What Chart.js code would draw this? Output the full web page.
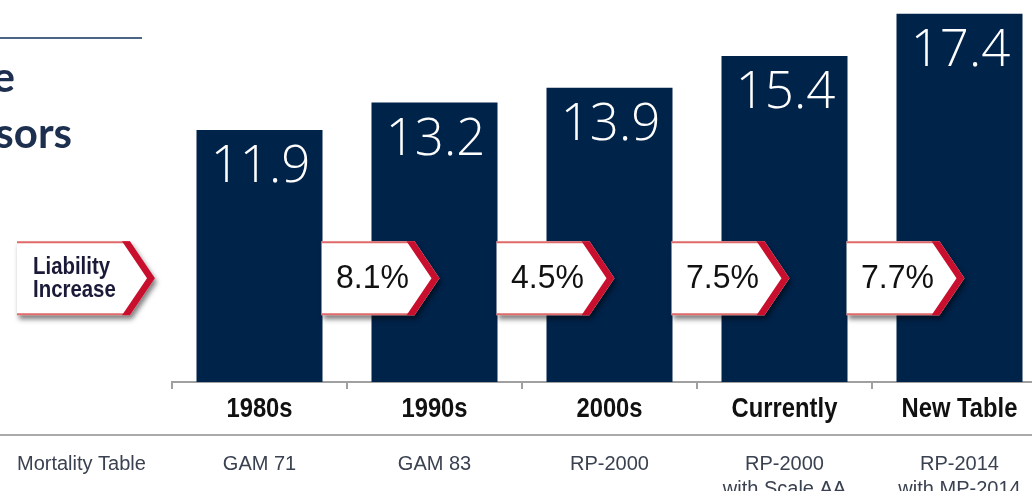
<!DOCTYPE html>
<html>
<head>
<meta charset="utf-8">
<script src="https://cdn.jsdelivr.net/npm/chart.js@4.4.1/dist/chart.umd.min.js"></script>
<style>
html, body { margin: 0; padding: 0; background: #fff; overflow: hidden; }
#wrap { width: 1047px; height: 491px; }
</style>
</head>
<body>
<div id="wrap"><canvas id="mortChart" width="1047" height="491"></canvas></div>
<script>
var periods = ['1980s', '1990s', '2000s', 'Currently', 'New Table'];
var lifeExpectancy = [11.9, 13.2, 13.9, 15.4, 17.4];
var liabilityIncrease = ['8.1%', '4.5%', '7.5%', '7.7%'];
var mortalityTables = [['GAM 71'], ['GAM 83'], ['RP-2000'], ['RP-2000', 'with Scale AA'], ['RP-2014', 'with MP-2014']];

var navy = '#00234a';
var red = '#c8102e';
var sans = '"Liberation Sans", Arial, sans-serif';

// text squeezed horizontally (no narrow font installed)
function squeezeText(ctx, txt, x, y, sx, align) {
    ctx.save();
    ctx.translate(x, y);
    ctx.scale(sx, 1);
    ctx.textAlign = align;
    ctx.fillText(txt, 0, 0);
    ctx.restore();
}

// white box with red chevron on the right
function drawArrow(ctx, x, yc, w, h) {
    var y0 = yc - h / 2, y1 = yc + h / 2;
    var xf = x + w - 25, xt = x + w;
    ctx.save();
    ctx.shadowColor = 'rgba(0,0,0,0.5)';
    ctx.shadowBlur = 5;
    ctx.shadowOffsetX = 2;
    ctx.shadowOffsetY = 4;
    ctx.fillStyle = '#fff';
    ctx.beginPath();
    ctx.moveTo(x, y0);
    ctx.lineTo(xf, y0);
    ctx.lineTo(xt, yc);
    ctx.lineTo(xf, y1);
    ctx.lineTo(x, y1);
    ctx.closePath();
    ctx.fill();
    ctx.restore();

    ctx.save();
    ctx.strokeStyle = '#e06a6a';
    ctx.lineWidth = 2;
    ctx.beginPath();
    ctx.moveTo(x, y0 + 1); ctx.lineTo(xf, y0 + 1);
    ctx.moveTo(x, y1 - 1); ctx.lineTo(xf, y1 - 1);
    ctx.stroke();
    ctx.fillStyle = red;
    ctx.beginPath();
    ctx.moveTo(xf - 8, y0);
    ctx.lineTo(xf, y0);
    ctx.lineTo(xt, yc);
    ctx.lineTo(xf, y1);
    ctx.lineTo(xf - 8, y1);
    ctx.lineTo(xt - 8, yc);
    ctx.closePath();
    ctx.fill();
    ctx.restore();
}

var decorations = {
    id: 'decorations',
    afterDatasetsDraw: function(chart) {
        var ctx = chart.ctx;
        var meta = chart.getDatasetMeta(0);
        var yScale = chart.scales.y;
        var yc = yScale.getPixelForValue(4.9);

        // values inside bars
        ctx.save();
        ctx.fillStyle = '#fff';
        ctx.font = '300 51px "Open Sans", sans-serif';
        ctx.textBaseline = 'alphabetic';
        meta.data.forEach(function(bar, i) {
            squeezeText(ctx, lifeExpectancy[i].toFixed(1), bar.x + 1, bar.y + 52, 1, 'center');
        });
        ctx.restore();

        // liability increase arrows
        drawArrow(ctx, 17, yc, 138, 74);
        ctx.save();
        ctx.fillStyle = '#1a1a38';
        ctx.font = 'bold 24px ' + sans;
        squeezeText(ctx, 'Liability', 33, yc - 4, 0.85, 'left');
        squeezeText(ctx, 'Increase', 33, yc + 19, 0.85, 'left');
        ctx.restore();

        liabilityIncrease.forEach(function(txt, i) {
            var bar = meta.data[i];
            var x = bar.x + bar.width / 2 - 1;
            drawArrow(ctx, x, yc, 118, 74);
            ctx.save();
            ctx.fillStyle = '#111';
            ctx.font = '33px ' + sans;
            squeezeText(ctx, txt, x + 51, yc + 10, 0.97, 'center');
            ctx.restore();
        });
    },
    afterDraw: function(chart) {
        var ctx = chart.ctx;
        var xScale = chart.scales.x;

        // category labels under the axis
        ctx.save();
        ctx.fillStyle = '#111';
        ctx.font = 'bold 28px ' + sans;
        periods.forEach(function(p, i) {
            squeezeText(ctx, p, xScale.getPixelForValue(i), 417, 0.85, 'center');
        });
        ctx.restore();

        // title fragments on the left
        ctx.save();
        ctx.strokeStyle = '#4a6585';
        ctx.lineWidth = 2;
        ctx.beginPath();
        ctx.moveTo(0, 38); ctx.lineTo(142, 38);
        ctx.stroke();
        ctx.fillStyle = '#1c2f4f';
        ctx.font = 'bold 42px Lato, sans-serif';
        ctx.textAlign = 'right';
        ctx.fillText('e', 15, 92);
        ctx.fillText('sors', 72, 148);
        ctx.restore();

        // mortality table row
        ctx.save();
        ctx.strokeStyle = '#aaaaaa';
        ctx.lineWidth = 2;
        ctx.beginPath();
        ctx.moveTo(0, 435); ctx.lineTo(chart.width, 435);
        ctx.stroke();
        ctx.fillStyle = '#3a4150';
        ctx.font = '20px ' + sans;
        ctx.textAlign = 'left';
        ctx.fillText('Mortality Table', 17, 470);
        ctx.textAlign = 'center';
        mortalityTables.forEach(function(lines, i) {
            var cx = xScale.getPixelForValue(i);
            lines.forEach(function(line, j) {
                ctx.fillText(line, cx, 470 + j * 25);
            });
        });
        ctx.restore();
    }
};

new Chart(document.getElementById('mortChart').getContext('2d'), {
    type: 'bar',
    data: {
        labels: periods,
        datasets: [{
            data: lifeExpectancy,
            backgroundColor: navy,
            borderWidth: 0,
            barPercentage: 0.72,
            categoryPercentage: 1
        }]
    },
    options: {
        responsive: false,
        animation: false,
        layout: { padding: { left: 172, right: 0, top: 1, bottom: 0 } },
        plugins: {
            legend: { display: false },
            tooltip: { enabled: false }
        },
        scales: {
            x: {
                grid: { drawOnChartArea: false, drawTicks: true, tickLength: 7, color: '#a0a0a0', lineWidth: 2, offset: true },
                border: { display: true, color: '#a0a0a0', width: 2 },
                ticks: { color: 'rgba(0,0,0,0)', font: { size: 20 } },
                afterFit: function(scale) { scale.height = 109; }
            },
            y: { display: false, min: 0, max: 18 }
        }
    },
    plugins: [decorations]
});
</script>
</body>
</html>
